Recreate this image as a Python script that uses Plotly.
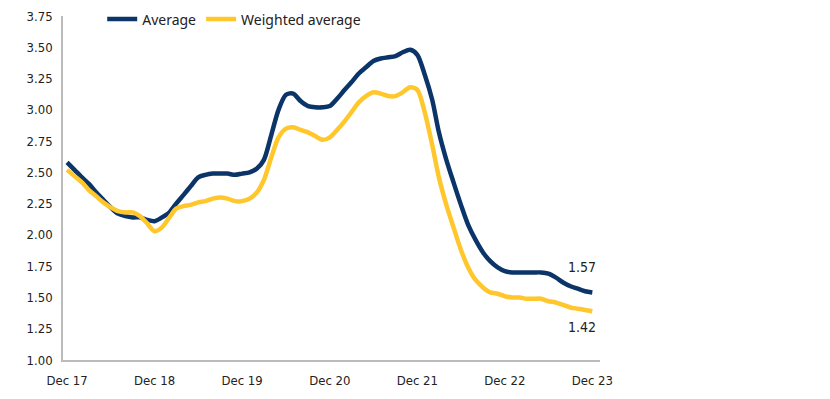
import pandas as pd
import plotly.graph_objects as go

months = pd.date_range("2017-12-01", periods=73, freq="MS")

average = [
    2.58, 2.52, 2.46, 2.41, 2.34, 2.28, 2.22, 2.17, 2.15, 2.14, 2.14, 2.12,
    2.11, 2.14, 2.18, 2.25, 2.32, 2.39, 2.46, 2.48, 2.49, 2.49, 2.49, 2.48,
    2.49, 2.50, 2.53, 2.60, 2.80, 3.00, 3.12, 3.13, 3.07, 3.03, 3.02, 3.02,
    3.03, 3.09, 3.16, 3.22, 3.29, 3.34, 3.39, 3.41, 3.42, 3.43, 3.46, 3.48,
    3.44, 3.28, 3.08, 2.82, 2.60, 2.42, 2.24, 2.08, 1.96, 1.86, 1.79, 1.74,
    1.71, 1.70, 1.70, 1.70, 1.70, 1.70, 1.69, 1.66, 1.62, 1.59, 1.57, 1.55,
    1.54,
]

weighted_average = [
    2.52, 2.47, 2.42, 2.36, 2.31, 2.26, 2.22, 2.19, 2.18, 2.18, 2.15, 2.09,
    2.03, 2.06, 2.14, 2.21, 2.23, 2.24, 2.26, 2.27, 2.29, 2.30, 2.29, 2.27,
    2.27, 2.29, 2.34, 2.44, 2.62, 2.78, 2.85, 2.86, 2.84, 2.82, 2.79, 2.76,
    2.78, 2.84, 2.91, 2.98, 3.06, 3.11, 3.14, 3.13, 3.11, 3.11, 3.14, 3.18,
    3.16, 2.98, 2.72, 2.46, 2.24, 2.06, 1.88, 1.74, 1.64, 1.58, 1.54, 1.53,
    1.51, 1.50, 1.50, 1.49, 1.49, 1.49, 1.47, 1.46, 1.44, 1.42, 1.41, 1.40,
    1.39,
]

tick_dates = ["2017-12-01", "2018-12-01", "2019-12-01", "2020-12-01",
              "2021-12-01", "2022-12-01", "2023-12-01"]
tick_labels = ["Dec 17", "Dec 18", "Dec 19", "Dec 20", "Dec 21", "Dec 22", "Dec 23"]
y_ticks = [1.00, 1.25, 1.50, 1.75, 2.00, 2.25, 2.50, 2.75, 3.00, 3.25, 3.50, 3.75]

end_labels = ["1.57", "1.42"]

NAVY = "#0B3468"
YELLOW = "#FFC72C"
TICK_FONT = "DejaVu Sans Condensed, Roboto Condensed, Roboto, sans-serif"

fig = go.Figure()
fig.add_trace(go.Scatter(
    x=months, y=average, name="Average", mode="lines",
    line=dict(color=NAVY, width=4.5, shape="spline", smoothing=0.8),
))
fig.add_trace(go.Scatter(
    x=months, y=weighted_average, name="Weighted average", mode="lines",
    line=dict(color=YELLOW, width=4.5, shape="spline", smoothing=0.8),
))

fig.add_annotation(x=months[-1], y=average[-1], text=end_labels[0],
                   showarrow=False, xshift=-10, yshift=25,
                   font=dict(size=14, color="#222222", family=TICK_FONT))
fig.add_annotation(x=months[-1], y=weighted_average[-1], text=end_labels[1],
                   showarrow=False, xshift=-10, yshift=-16,
                   font=dict(size=14, color="#222222", family=TICK_FONT))

fig.update_layout(
    width=814, height=383,
    margin=dict(l=55, r=222, t=8, b=31, autoexpand=False),
    paper_bgcolor="white", plot_bgcolor="white",
    font=dict(family="Noto Sans", color="#222222"),
    showlegend=True,
    legend=dict(orientation="h", x=0.073, xanchor="left", y=0.99, yanchor="middle",
                font=dict(size=14, family="Noto Sans", color="#222222"),
                bgcolor="rgba(0,0,0,0)", itemwidth=30, tracegroupgap=0),
    xaxis=dict(
        range=["2017-11-14", "2024-01-02"],
        tickmode="array", tickvals=tick_dates, ticktext=tick_labels,
        showgrid=False, zeroline=False,
        showline=True, linecolor="#BBBBBB", linewidth=1.5,
        ticks="outside", ticklen=8, tickcolor="rgba(0,0,0,0)",
        tickfont=dict(size=13, family=TICK_FONT, color="#222222"),
    ),
    yaxis=dict(
        range=[1.0, 3.75],
        tickmode="array", tickvals=y_ticks,
        ticktext=[f"{v:.2f}" for v in y_ticks],
        showgrid=False, zeroline=False,
        showline=True, linecolor="#BBBBBB", linewidth=1.5,
        ticks="outside", ticklen=6, tickcolor="rgba(0,0,0,0)",
        tickfont=dict(size=13, family=TICK_FONT, color="#222222"),
    ),
)

fig.write_html("out.html")
